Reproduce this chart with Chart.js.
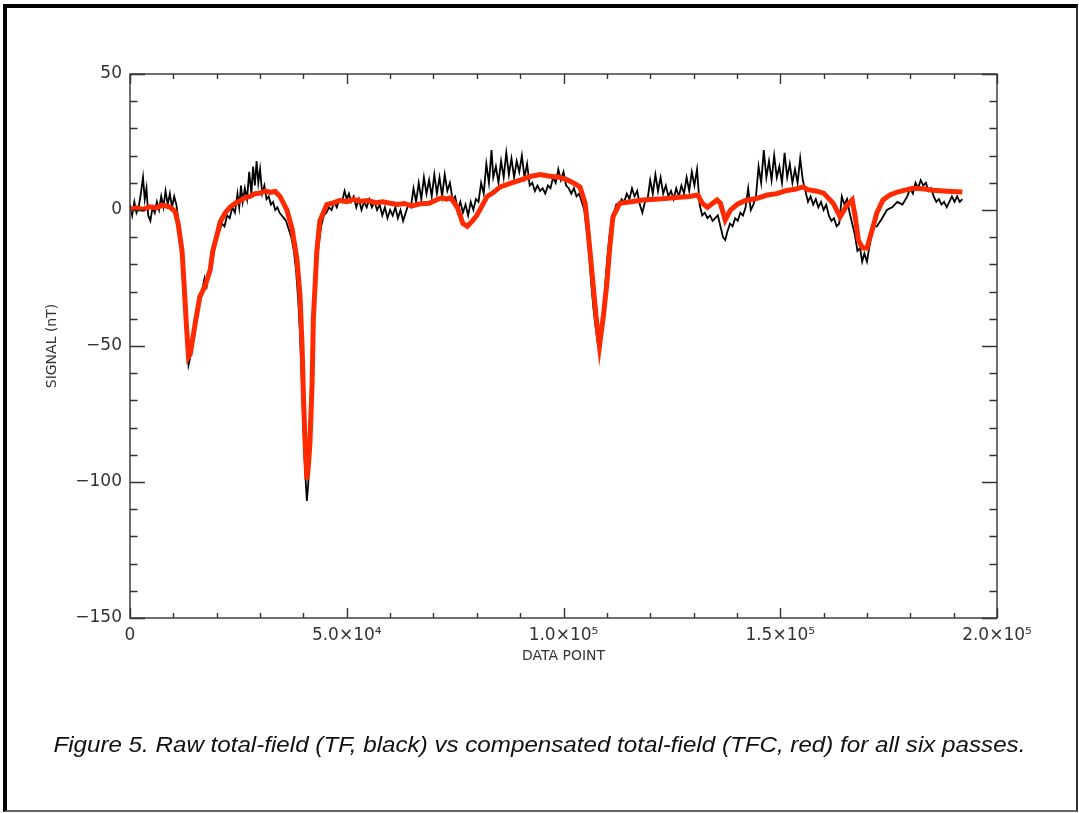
<!DOCTYPE html>
<html><head><meta charset="utf-8">
<script src="https://cdn.jsdelivr.net/npm/chart.js@4.4.0/dist/chart.umd.min.js"></script>
<style>
html,body{margin:0;padding:0;background:#fff;}
body{width:1079px;height:813px;position:relative;overflow:hidden;}
#frame{position:absolute;left:3px;top:4px;width:1075px;height:808px;border-left:4px solid #000;border-top:4px solid #000;border-right:2px solid #333;border-bottom:2px solid #666;box-sizing:border-box;}
#c{position:absolute;left:0;top:0;}
#cap{position:absolute;left:0;width:1079px;top:732px;height:28px;line-height:28px;text-align:center;color:#111;white-space:nowrap;}
#cap span{display:inline-block;font:italic 22px "Liberation Sans Narrow","Liberation Sans",Arial,sans-serif;transform-origin:center center;}
</style></head><body>
<div id="frame"></div>
<canvas id="c" width="1079" height="813"></canvas>
<div id="cap"><span id="capText">Figure 5. Raw total-field (TF, black) vs compensated total-field (TFC, red) for all six passes.</span></div>
<script>
// Compensated total field (TFC, red): [data point, nT]
const tfcPoints = [[0,0],[1500,0.8],[3000,0.2],[4500,1.2],[6000,0.8],[7500,1.8],[9200,1.1],[10400,-0.5],[11100,-5],[12000,-15],[12500,-28],[13000,-42],[13500,-54],[13900,-53],[14500,-47],[15000,-42],[16100,-32],[17300,-28],[18500,-22],[19100,-15],[20100,-9],[20800,-4.4],[22000,-1],[23100,1.1],[24300,2.5],[25500,3.5],[26600,4.6],[27700,5],[28800,6],[30000,6.2],[31200,7],[32300,6.5],[33500,6.8],[34600,5],[36200,0],[37400,-7],[38500,-18],[39200,-31],[39700,-50],[40000,-68],[40400,-86],[40800,-99],[41100,-95],[41500,-86],[42000,-64],[42300,-40],[43100,-15],[43800,-4],[45400,2],[46900,2.6],[48400,3.5],[50000,3.1],[51600,3.9],[53300,3.2],[55000,3.5],[56600,2.7],[58300,3.0],[60000,2.5],[61700,2.0],[63300,2.4],[65000,1.5],[67000,2.3],[69000,2.5],[70500,3.6],[72000,4.5],[73000,4.0],[74000,4.5],[75500,1],[76800,-5],[77800,-6],[79000,-4],[80000,-2],[81200,1.5],[82400,5],[83900,6.5],[85400,8.5],[87700,9.8],[90000,11],[92300,12.3],[94600,13],[96900,12.4],[99200,12],[100700,11.2],[102200,10],[103800,8.5],[105000,2.5],[105700,-8.5],[106100,-15],[106800,-27],[107500,-39],[108300,-50],[109200,-39],[110000,-27],[110600,-15],[111400,-2.5],[113000,2.5],[115600,3.0],[118300,3.7],[122000,4.0],[126000,4.6],[129000,5],[131000,5.5],[132000,2.5],[133200,1],[135400,3.7],[136200,2.5],[137300,-3.7],[138500,0],[140200,2.2],[142000,3.5],[144500,4.2],[147000,5.5],[149200,6.0],[151500,7.2],[153400,7.6],[155300,8.5],[156300,7.5],[158200,7.0],[160000,6.2],[162200,2.5],[163800,-2.5],[165400,1.8],[166600,3.7],[167300,-2.5],[168000,-11],[169000,-14],[170000,-14],[171200,-7.3],[172300,-1],[173700,3.7],[175300,5.5],[177000,6.6],[178800,7.3],[180600,8],[182900,7.8],[185200,7.3],[188600,6.9],[192000,6.6]];

// Raw total field (TF, black): [data point, nT]
const tfPoints = [[0,2],[500,-2],[1000,3],[1500,-1],[2000,1],[2500,6],[3000,12],[3400,4],[3800,8],[4200,-2],[4700,-4],[5200,1],[5700,-1],[6200,3],[6700,0],[7200,5],[7700,1],[8200,7],[8700,2],[9200,6],[9700,1],[10200,5],[10700,2],[11100,-3],
[11600,-9],[12200,-22],[12700,-35],[13200,-49],[13500,-57],[13800,-55],[14300,-48],[14800,-44],[15400,-39],[16000,-34],[16600,-30],[17200,-25],[17700,-28],[18200,-23],[18800,-21],[19400,-15],[20000,-11],[20600,-8],[21200,-5],[21800,-6],[22400,-2],[23000,-3],[23600,1],[24200,-1],[24800,6],[25200,1],[25600,9],[26000,3],[26500,8],[27000,4],[27500,14],[28000,6],[28400,16],[28800,9],[29200,18],[29600,10],[30000,15],[30500,6],[31000,9],[31500,4],[32000,5],[32500,2],[33000,3],[33500,0],[34000,1],[34500,-1],[35000,-2],[35500,-3],[36000,-4],[36600,-7],[37200,-10],[37800,-15],[38300,-22],[38800,-33],[39200,-45],[39600,-62],[40000,-80],[40400,-96],[40800,-107],[41100,-101],[41400,-90],[41800,-70],[42200,-48],[42600,-32],[43100,-19],[43600,-12],[44100,-6],[44700,-2],[45300,-1],[45900,1],[46500,0],[47100,3],[47700,1],[48300,4],[48900,3],[49500,7],[50000,4],[50500,6],[51000,3],[51600,5],[52200,1],[52800,4],[53400,0],[54000,3],[54600,1],[55200,4],[55800,1],[56400,3],[57000,0],[57600,2],[58200,-2],[58800,1],[59400,-3],[60000,0],[60600,-2],[61200,1],[61800,-3],[62400,0],[63000,-4],[63600,-1],[64200,2],[64800,1],[65400,8],[66000,3],[66600,10],[67200,4],[67800,12],[68400,6],[69000,11],[69600,5],[70200,13],[70800,6],[71400,12],[72000,5],[72600,13],[73200,7],[73800,10],[74400,4],[75000,5],[75600,0],[76200,3],[76800,-1],[77400,2],[78000,-2],[78600,3],[79200,0],[79800,4],[80400,3],[81000,10],[81600,6],[82200,17],[82800,10],[83400,22],[83800,12],[84400,16],[85000,10],[85600,18],[86200,12],[86800,21],[87400,13],[88000,19],[88600,12],[89200,18],[89800,14],[90400,20],[91000,12],[91600,17],[92200,9],[92800,10],[93400,7],[94000,9],[94600,7],[95200,8],[95800,6],[96400,9],[97000,8],[97600,12],[98200,10],[98800,15],[99400,11],[100000,14],[100600,9],[101200,8],[101800,6],[102400,8],[103000,5],[103600,6],[104200,3],[104800,0],[105400,-8],[105900,-16],[106400,-27],[106900,-36],[107400,-43],[107900,-49],[108300,-51.5],[108700,-46],[109100,-39],[109600,-28],[110100,-18],[110600,-10],[111100,-4],[111600,-1],[112200,2],[112800,1],[113400,4],[114000,3],[114600,6],[115200,4],[115800,8],[116400,5],[117000,7],[117600,2],[118200,-1],[118800,3],[119400,4],[120000,11],[120600,6],[121200,13],[121800,7],[122400,12],[123000,6],[123600,9],[124200,5],[124800,7],[125400,4],[126000,8],[126600,5],[127200,9],[127800,6],[128400,12],[129000,7],[129600,14],[130200,9],[130800,15],[131400,2],[132000,-2],[132600,-1],[133200,-3],[133800,-2],[134400,-4],[135000,-3],[135600,-2],[136200,-6],[136800,-10],[137300,-11],[137800,-8],[138400,-5],[139000,-6],[139600,-3],[140200,-4],[140800,-1],[141400,-2],[142000,1],[142600,8],[143200,0],[143800,2],[144400,5],[145000,16],[145600,10],[146200,22],[146800,12],[147400,18],[148000,11],[148600,20],[149200,12],[149800,16],[150400,10],[151000,21],[151600,12],[152200,17],[152800,10],[153400,15],[154000,10],[154600,19],[155200,11],[155800,7],[156400,3],[157000,5],[157600,2],[158200,4],[158800,1],[159400,3],[160000,0],[160600,2],[161200,-2],[161800,-4],[162400,-3],[163000,-6],[163600,-5],[164200,5],[164800,2],[165400,4],[166000,-1],[166600,-5],[167200,-9],[167800,-15],[168400,-14],[168900,-19],[169400,-16],[170000,-19],[170500,-14],[171100,-9],[171700,-6],[172300,-6],[173500,-3],[174600,0],[175800,1],[177000,3],[178200,2],[179300,5],[180000,8],[180600,6],[181200,10],[181800,8],[182400,11],[183000,9],[183600,10],[184200,7],[184800,8],[185400,5],[186000,3],[186600,4],[187200,2],[187800,3],[188400,1],[189000,3],[189600,5],[190200,3],[190800,5],[191400,3],[192000,4]];

const xTickValues = [0, 50000, 100000, 150000, 200000];
const xTickLabels = ['0', '5.0×10⁴', '1.0×10⁵', '1.5×10⁵', '2.0×10⁵'];
const yTickValues = [-150, -100, -50, 0, 50];
const yTickLabels = ['−150', '−100', '−50', '0', '50'];
const xMinorStep = 10000;
const yMinorStep = 10;

const axisColor = '#333';
const labelFont = {family: 'DejaVu Sans', size: 17};

const boxTicks = {
  id: 'boxTicks',
  afterDraw(chart) {
    const {ctx, chartArea: a, scales: {x, y}} = chart;
    ctx.save();
    ctx.strokeStyle = axisColor;
    ctx.lineWidth = 1.4;
    ctx.strokeRect(a.left, a.top, a.right - a.left, a.bottom - a.top);
    ctx.beginPath();
    for (let v = x.min; v <= x.max; v += xMinorStep) {
      const px = Math.round(x.getPixelForValue(v)) + 0.5;
      const L = xTickValues.includes(v) ? 10 : 5;
      ctx.moveTo(px, a.bottom); ctx.lineTo(px, a.bottom - L);
      ctx.moveTo(px, a.top); ctx.lineTo(px, a.top + L);
    }
    for (let v = y.min; v <= y.max; v += yMinorStep) {
      const py = Math.round(y.getPixelForValue(v)) + 0.5;
      const L = yTickValues.includes(v) ? 15 : 7.5;
      ctx.moveTo(a.left, py); ctx.lineTo(a.left + L, py);
      ctx.moveTo(a.right, py); ctx.lineTo(a.right - L, py);
    }
    ctx.stroke();
    ctx.restore();
  }
};

new Chart(document.getElementById('c'), {
  type: 'line',
  data: {
    datasets: [
      {label: 'TF', data: tfPoints.map(p => ({x: p[0], y: p[1]})), borderColor: '#000', borderWidth: 1.8, pointRadius: 0, tension: 0, order: 2},
      {label: 'TFC', data: tfcPoints.map(p => ({x: p[0], y: p[1]})), borderColor: '#ff2a00', borderWidth: 5, pointRadius: 0, tension: 0, order: 1}
    ]
  },
  options: {
    responsive: false,
    animation: false,
    devicePixelRatio: 1,
    layout: {padding: {left: 0, right: 82, top: 74, bottom: 0}},
    plugins: {legend: {display: false}, tooltip: {enabled: false}},
    scales: {
      x: {
        type: 'linear', min: 0, max: 200000,
        ticks: {stepSize: 50000, autoSkip: false, maxRotation: 0, padding: 7, color: axisColor, font: labelFont,
          callback: v => { const i = xTickValues.indexOf(v); return i >= 0 ? xTickLabels[i] : ''; }},
        grid: {display: false, drawTicks: false},
        border: {display: false},
        title: {display: true, text: 'DATA POINT', color: axisColor, font: {family: 'DejaVu Sans', size: 14}, padding: {top: 0, bottom: 148}},
        afterFit: s => { s.height = 195; }
      },
      y: {
        type: 'linear', min: -150, max: 50,
        ticks: {stepSize: 50, autoSkip: false, padding: 8, color: axisColor, font: labelFont,
          callback: v => { const i = yTickValues.indexOf(v); return i >= 0 ? yTickLabels[i] : ''; }},
        grid: {display: false, drawTicks: false},
        border: {display: false},
        title: {display: true, text: 'SIGNAL (nT)', color: axisColor, font: {family: 'DejaVu Sans', size: 14}, padding: {top: 44, bottom: 0}},
        afterFit: s => { s.width = 130; }
      }
    }
  },
  plugins: [boxTicks]
});

const cap = document.getElementById('capText');
const w = cap.getBoundingClientRect().width;
cap.style.transform = 'scaleX(' + (972 / w) + ')';
</script>
</body></html>
